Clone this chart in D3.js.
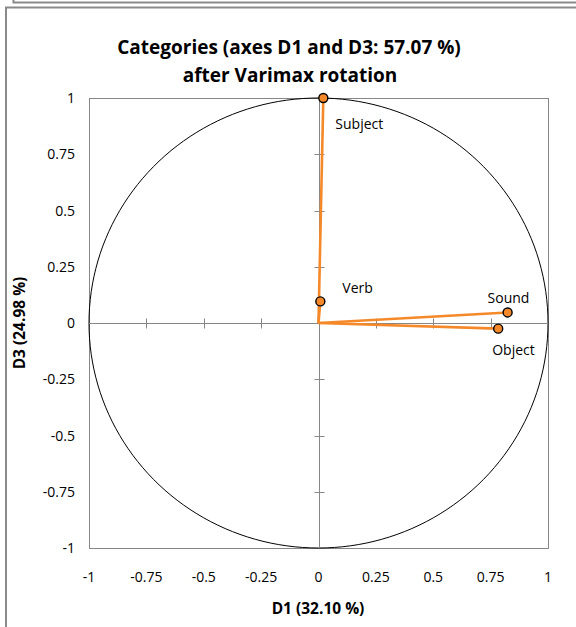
<!DOCTYPE html>
<html>
<head>
<meta charset="utf-8">
<script src="https://cdn.jsdelivr.net/npm/d3@7"></script>
<style>
  body { margin: 0; background: #fff; }
  svg { font-family: "Open Sans", "Noto Sans", sans-serif; }
</style>
</head>
<body>
<div id="chart"></div>
<script>
// variables (rotated factor coordinates)
var names = ["Subject", "Verb", "Sound", "Object"]
var d1 = [0.021, 0.008, 0.824, 0.783]
var d3v = [1.0, 0.096, 0.047, -0.025]
var ticks = [-1, -0.75, -0.5, -0.25, 0, 0.25, 0.5, 0.75, 1]

var W = 576, H = 627
var plotL = 89, plotR = 548, plotT = 98, plotB = 548
var orange = "#F5892A"
var grey = "#878787"

var svg = d3.select("#chart").append("svg")
    .attr("width", W)
    .attr("height", H)

// outer frames
svg.append("path")
    .attr("d", "M13.5,0V2.5H" + W)
    .attr("fill", "none").attr("stroke", "#8a8a8a").attr("stroke-width", 2)
svg.append("path")
    .attr("d", "M6," + H + "V7.5H" + W)
    .attr("fill", "none").attr("stroke", "#8a8a8a").attr("stroke-width", 2)

var x = d3.scaleLinear().domain([-1, 1]).range([plotL, plotR])
var y = d3.scaleLinear().domain([-1, 1]).range([plotB, plotT])

// plot area border
svg.append("rect")
    .attr("x", plotL + 0.5).attr("y", plotT + 0.5)
    .attr("width", plotR - plotL).attr("height", plotB - plotT)
    .attr("fill", "none").attr("stroke", grey)

// correlation circle
var circ = d3.range(0, 361, 2).map(a => [Math.cos(a * Math.PI / 180), Math.sin(a * Math.PI / 180)])
svg.append("path")
    .datum(circ)
    .attr("d", d3.line().x(d => x(d[0])).y(d => y(d[1])))
    .attr("fill", "none").attr("stroke", "#000").attr("stroke-width", 1)

// axes through origin with cross ticks
var xAxis = svg.append("g")
    .attr("transform", "translate(0," + (y(0) + 0.5) + ")")
xAxis.append("line")
    .attr("x1", plotL).attr("x2", plotR)
    .attr("stroke", grey)
xAxis.selectAll("line.tick")
    .data(ticks.slice(1, -1))
    .enter().append("line")
    .classed("tick", true)
    .attr("x1", d => Math.round(x(d)) + 0.5).attr("x2", d => Math.round(x(d)) + 0.5)
    .attr("y1", -5).attr("y2", 5)
    .attr("stroke", grey)

var yAxis = svg.append("g")
    .attr("transform", "translate(" + (Math.round(x(0)) + 0.5) + ",0)")
yAxis.append("line")
    .attr("y1", plotT).attr("y2", plotB)
    .attr("stroke", grey)
yAxis.selectAll("line.tick")
    .data(ticks.slice(1, -1))
    .enter().append("line")
    .classed("tick", true)
    .attr("y1", d => Math.round(y(d)) + 0.5).attr("y2", d => Math.round(y(d)) + 0.5)
    .attr("x1", -5).attr("x2", 5)
    .attr("stroke", grey)

// tick labels
svg.append("g").selectAll("text")
    .data(ticks)
    .enter().append("text")
    .attr("x", d => x(d))
    .attr("y", plotB + 34)
    .attr("text-anchor", "middle")
    .attr("font-size", 14)
    .text(d => d)

svg.append("g").selectAll("text")
    .data(ticks)
    .enter().append("text")
    .attr("x", plotL - 14)
    .attr("y", d => y(d) + 5)
    .attr("text-anchor", "end")
    .attr("font-size", 14)
    .text(d => d)

// vectors
var pts = names.map((n, i) => ({ name: n, x: d1[i], y: d3v[i] }))

svg.append("g").selectAll("line")
    .data(pts)
    .enter().append("line")
    .attr("x1", x(0)).attr("y1", y(0))
    .attr("x2", d => x(d.x)).attr("y2", d => y(d.y))
    .attr("stroke", orange).attr("stroke-width", 2.6)

svg.append("g").selectAll("circle")
    .data(pts)
    .enter().append("circle")
    .attr("cx", d => x(d.x)).attr("cy", d => y(d.y))
    .attr("r", 4.5)
    .attr("fill", orange).attr("stroke", "#000").attr("stroke-width", 1.4)

// point labels
var lab = { Subject: [12, 31], Verb: [22, -8], Sound: [-20, -9], Object: [-6, 26] }
svg.append("g").selectAll("text")
    .data(pts)
    .enter().append("text")
    .attr("x", d => x(d.x) + lab[d.name][0])
    .attr("y", d => y(d.y) + lab[d.name][1])
    .attr("font-size", 14)
    .text(d => d.name)

// titles
svg.append("text")
    .attr("x", 289).attr("y", 54)
    .attr("text-anchor", "middle")
    .attr("font-size", 19).attr("font-weight", "bold")
    .text("Categories (axes D1 and D3: 57.07 %)")
svg.append("text")
    .attr("x", 290).attr("y", 82)
    .attr("text-anchor", "middle")
    .attr("font-size", 19).attr("font-weight", "bold")
    .text("after Varimax rotation")

svg.append("text")
    .attr("x", 318).attr("y", 614)
    .attr("text-anchor", "middle")
    .attr("font-size", 15.5).attr("font-weight", "bold")
    .text("D1 (32.10 %)")

svg.append("text")
    .attr("transform", "translate(25," + y(0) + ") rotate(-90)")
    .attr("text-anchor", "middle")
    .attr("font-size", 15.5).attr("font-weight", "bold")
    .text("D3 (24.98 %)")
</script>
</body>
</html>
